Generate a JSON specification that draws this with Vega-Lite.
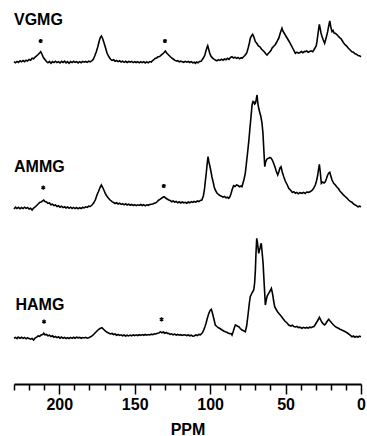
{
  "$schema": "https://vega.github.io/schema/vega-lite/v6.json",
  "padding": {"left": 10, "top": 0, "right": 8, "bottom": 0},
  "spacing": 0,
  "bounds": "flush",
  "background": "white",
  "config": {"view": {"stroke": null}, "font": "Liberation Sans"},
  "datasets": {
    "vgmg": [
      {"ppm":230,"v":0.3},{"ppm":229,"v":-0.8},{"ppm":228,"v":0.6},{"ppm":227,"v":-0.4},{"ppm":226,"v":1.2},{"ppm":225,"v":0.2},{"ppm":224,"v":1.5},{"ppm":223,"v":0.4},{"ppm":222,"v":1.8},{"ppm":221,"v":0.9},{"ppm":220,"v":2.5},{"ppm":219,"v":1.8},{"ppm":218,"v":3.7},{"ppm":217,"v":3.2},{"ppm":216,"v":5},{"ppm":215,"v":6.2},{"ppm":214,"v":7.5},{"ppm":213,"v":9},{"ppm":212.3,"v":10.3},{"ppm":211.5,"v":8},{"ppm":210.5,"v":4.5},{"ppm":209.5,"v":2.5},{"ppm":208.5,"v":0.5},{"ppm":207.5,"v":-0.8},{"ppm":206.5,"v":0.5},{"ppm":205.5,"v":-1.3},{"ppm":204.5,"v":0.4},{"ppm":203.5,"v":-0.6},{"ppm":202.5,"v":0.8},{"ppm":201.5,"v":-0.5},{"ppm":200.5,"v":0.3},{"ppm":199.5,"v":-1},{"ppm":198.5,"v":0.6},{"ppm":197.5,"v":-0.4},{"ppm":196.5,"v":0.8},{"ppm":195.5,"v":-0.8},{"ppm":194.5,"v":0.4},{"ppm":193.5,"v":-1.2},{"ppm":192.5,"v":0.5},{"ppm":191.5,"v":-0.6},{"ppm":190.5,"v":0.7},{"ppm":189.5,"v":-0.3},{"ppm":188.5,"v":0.4},{"ppm":187.5,"v":-0.9},{"ppm":186.5,"v":0.3},{"ppm":185.5,"v":-0.7},{"ppm":184.5,"v":0.6},{"ppm":183.5,"v":-0.2},{"ppm":182.5,"v":0.5},{"ppm":181.5,"v":-0.4},{"ppm":180.5,"v":0.8},{"ppm":179.5,"v":0.2},{"ppm":178.5,"v":1.2},{"ppm":177.5,"v":2.5},{"ppm":176.5,"v":6},{"ppm":175.5,"v":10},{"ppm":174.5,"v":15},{"ppm":173.5,"v":21},{"ppm":172.8,"v":24.5},{"ppm":172.1,"v":26},{"ppm":171.4,"v":24},{"ppm":170.5,"v":20},{"ppm":169.5,"v":15},{"ppm":168.3,"v":8.7},{"ppm":167,"v":5},{"ppm":166,"v":2.7},{"ppm":165,"v":1.6},{"ppm":164,"v":2.2},{"ppm":163,"v":0.8},{"ppm":162,"v":1.5},{"ppm":161,"v":0.4},{"ppm":160,"v":1.2},{"ppm":159,"v":0},{"ppm":158,"v":0.9},{"ppm":157,"v":-0.3},{"ppm":156,"v":0.7},{"ppm":155,"v":-0.5},{"ppm":154,"v":0.5},{"ppm":153,"v":-0.2},{"ppm":152,"v":0.6},{"ppm":151,"v":-0.6},{"ppm":150,"v":0.3},{"ppm":149,"v":-0.5},{"ppm":148,"v":0.4},{"ppm":147,"v":-0.8},{"ppm":146,"v":0.2},{"ppm":145,"v":-0.6},{"ppm":144,"v":0.3},{"ppm":143,"v":-0.9},{"ppm":142,"v":0.1},{"ppm":141,"v":-0.7},{"ppm":140,"v":0.4},{"ppm":139,"v":0},{"ppm":138.5,"v":1},{"ppm":137.5,"v":2},{"ppm":136.5,"v":3.5},{"ppm":135.5,"v":4},{"ppm":134.5,"v":5.2},{"ppm":133.5,"v":5.5},{"ppm":132.5,"v":6.8},{"ppm":131.5,"v":8},{"ppm":130.5,"v":9.5},{"ppm":129.7,"v":11},{"ppm":128.8,"v":9},{"ppm":127.5,"v":7},{"ppm":126.5,"v":5.5},{"ppm":125.5,"v":4},{"ppm":124.5,"v":3},{"ppm":123.5,"v":1.8},{"ppm":122.5,"v":1},{"ppm":121.5,"v":1.3},{"ppm":120.5,"v":0.2},{"ppm":119.5,"v":0.8},{"ppm":118.5,"v":0.3},{"ppm":117.5,"v":-0.3},{"ppm":116.5,"v":0.6},{"ppm":115.5,"v":-0.2},{"ppm":114.5,"v":0.5},{"ppm":113.5,"v":-0.5},{"ppm":112.5,"v":0.4},{"ppm":111.5,"v":-0.8},{"ppm":110.5,"v":-0.2},{"ppm":109.8,"v":-1.3},{"ppm":109,"v":0},{"ppm":108,"v":-0.8},{"ppm":107,"v":0.6},{"ppm":106,"v":0.8},{"ppm":105.4,"v":2},{"ppm":104.5,"v":4},{"ppm":103.5,"v":7},{"ppm":102.8,"v":11},{"ppm":102.2,"v":14},{"ppm":101.6,"v":16.3},{"ppm":101,"v":13},{"ppm":100.3,"v":9},{"ppm":99.5,"v":6},{"ppm":98.5,"v":4},{"ppm":97.5,"v":2.8},{"ppm":96.6,"v":2},{"ppm":95.5,"v":1.2},{"ppm":94.5,"v":2.4},{"ppm":93.5,"v":1.6},{"ppm":92.5,"v":2.8},{"ppm":91.5,"v":1.8},{"ppm":90.5,"v":3},{"ppm":89.5,"v":2.2},{"ppm":88.5,"v":3.7},{"ppm":87.5,"v":2.6},{"ppm":86.5,"v":4.5},{"ppm":85.5,"v":5.3},{"ppm":84.5,"v":4},{"ppm":83.5,"v":4.8},{"ppm":82.5,"v":3.6},{"ppm":81.5,"v":4.5},{"ppm":80.5,"v":3.2},{"ppm":79.5,"v":4.2},{"ppm":78.9,"v":3.7},{"ppm":78,"v":5},{"ppm":77,"v":6.5},{"ppm":76,"v":8.5},{"ppm":75.5,"v":10.3},{"ppm":74.8,"v":14},{"ppm":74,"v":19},{"ppm":73.4,"v":23.7},{"ppm":72.6,"v":26},{"ppm":71.8,"v":27.7},{"ppm":71,"v":25},{"ppm":70,"v":20.3},{"ppm":69,"v":18.5},{"ppm":68,"v":16},{"ppm":67,"v":15.2},{"ppm":66,"v":13},{"ppm":65,"v":11.5},{"ppm":64,"v":10},{"ppm":63,"v":8},{"ppm":62.3,"v":7},{"ppm":61.5,"v":8.5},{"ppm":60.5,"v":10},{"ppm":59.5,"v":12},{"ppm":59,"v":13.7},{"ppm":58,"v":15.5},{"ppm":57,"v":17},{"ppm":56,"v":19.5},{"ppm":55,"v":22.5},{"ppm":54.5,"v":23.7},{"ppm":53.5,"v":29},{"ppm":52.8,"v":32},{"ppm":52.4,"v":33.7},{"ppm":51.8,"v":31},{"ppm":51,"v":29},{"ppm":50.2,"v":27},{"ppm":49,"v":24},{"ppm":48,"v":21.5},{"ppm":46.9,"v":18.7},{"ppm":45.5,"v":14.5},{"ppm":44.5,"v":11.5},{"ppm":43.5,"v":8.7},{"ppm":42.5,"v":9.8},{"ppm":41.5,"v":8.8},{"ppm":40.4,"v":9.5},{"ppm":39.5,"v":10.5},{"ppm":38.5,"v":9.3},{"ppm":37.5,"v":10.6},{"ppm":36.9,"v":10.3},{"ppm":36,"v":11},{"ppm":35,"v":9.8},{"ppm":34,"v":10.5},{"ppm":33,"v":11.2},{"ppm":32,"v":10.4},{"ppm":31.3,"v":12},{"ppm":30.5,"v":14},{"ppm":29.7,"v":16},{"ppm":29.2,"v":20.3},{"ppm":28.6,"v":27},{"ppm":28,"v":34},{"ppm":27.6,"v":37.7},{"ppm":27,"v":33},{"ppm":26.5,"v":29},{"ppm":25.8,"v":25.3},{"ppm":25,"v":22},{"ppm":24.1,"v":18.7},{"ppm":23.5,"v":22},{"ppm":22.8,"v":26},{"ppm":22.1,"v":30.3},{"ppm":21.4,"v":36},{"ppm":20.7,"v":41},{"ppm":20,"v":35},{"ppm":19.2,"v":30.3},{"ppm":18.5,"v":31.5},{"ppm":17.8,"v":29},{"ppm":17,"v":28.7},{"ppm":16,"v":27.5},{"ppm":15,"v":25.8},{"ppm":14,"v":24.2},{"ppm":13.3,"v":23.5},{"ppm":12.5,"v":21.5},{"ppm":11.5,"v":19},{"ppm":10.4,"v":17},{"ppm":9.5,"v":16},{"ppm":8.5,"v":14},{"ppm":7.5,"v":12.5},{"ppm":6,"v":10.3},{"ppm":5,"v":9.8},{"ppm":4,"v":8.2},{"ppm":3,"v":7.8},{"ppm":2,"v":6.4},{"ppm":1,"v":6.2},{"ppm":0,"v":5.3}
    ],
    "ammg": [
      {"ppm":230,"v":-1},{"ppm":229,"v":0.8},{"ppm":228,"v":-0.5},{"ppm":227,"v":0.6},{"ppm":226,"v":-0.8},{"ppm":225,"v":0.4},{"ppm":224,"v":-0.6},{"ppm":223,"v":0.8},{"ppm":222,"v":-0.4},{"ppm":221,"v":0.5},{"ppm":220,"v":-1},{"ppm":219,"v":-0.2},{"ppm":218,"v":-2},{"ppm":217,"v":0},{"ppm":216,"v":1},{"ppm":215,"v":2.5},{"ppm":214,"v":4},{"ppm":213,"v":5.5},{"ppm":212,"v":6},{"ppm":211,"v":7.2},{"ppm":210.3,"v":8},{"ppm":209.5,"v":6.5},{"ppm":208.5,"v":6},{"ppm":207.5,"v":4.7},{"ppm":206.5,"v":5},{"ppm":205.5,"v":3.2},{"ppm":204.5,"v":3.8},{"ppm":203.5,"v":2.4},{"ppm":202.5,"v":3},{"ppm":201.5,"v":1.5},{"ppm":200.5,"v":2.2},{"ppm":199.5,"v":0.8},{"ppm":198.5,"v":1.8},{"ppm":197.5,"v":0.4},{"ppm":196.5,"v":1.2},{"ppm":195.5,"v":0},{"ppm":194.5,"v":1},{"ppm":193.5,"v":-0.3},{"ppm":192.5,"v":0.8},{"ppm":191.5,"v":-0.4},{"ppm":190.5,"v":0.6},{"ppm":189.5,"v":-0.6},{"ppm":188.5,"v":0.5},{"ppm":187.5,"v":-0.8},{"ppm":186.5,"v":0.3},{"ppm":185.5,"v":-0.5},{"ppm":184.5,"v":0.6},{"ppm":183.5,"v":0.2},{"ppm":182.5,"v":1.2},{"ppm":181.5,"v":0.6},{"ppm":180.5,"v":1.8},{"ppm":179.5,"v":1.5},{"ppm":178.3,"v":3},{"ppm":177.2,"v":5},{"ppm":176,"v":8.5},{"ppm":175,"v":13},{"ppm":174,"v":16.5},{"ppm":173,"v":20.5},{"ppm":172.1,"v":23},{"ppm":171.2,"v":20.5},{"ppm":170.3,"v":17.5},{"ppm":169.5,"v":14.7},{"ppm":168.5,"v":12},{"ppm":167.5,"v":10},{"ppm":166.3,"v":8},{"ppm":165,"v":6.3},{"ppm":164,"v":5.5},{"ppm":163,"v":4.5},{"ppm":162,"v":5.2},{"ppm":161,"v":4},{"ppm":160,"v":4.8},{"ppm":159,"v":3.6},{"ppm":158,"v":4.4},{"ppm":157,"v":3.2},{"ppm":156,"v":4.2},{"ppm":155,"v":3},{"ppm":154,"v":3.9},{"ppm":153,"v":2.8},{"ppm":152,"v":3.6},{"ppm":151,"v":2.5},{"ppm":150,"v":3.4},{"ppm":149,"v":2.4},{"ppm":148,"v":3.2},{"ppm":147,"v":2.6},{"ppm":146,"v":3.5},{"ppm":145,"v":2.5},{"ppm":144,"v":3.3},{"ppm":143,"v":2.2},{"ppm":142,"v":3.2},{"ppm":141,"v":2.7},{"ppm":140,"v":3.4},{"ppm":139,"v":3.8},{"ppm":138,"v":4},{"ppm":137,"v":4.8},{"ppm":136,"v":5.2},{"ppm":135,"v":6.5},{"ppm":134,"v":8},{"ppm":133,"v":8.8},{"ppm":132,"v":10},{"ppm":131,"v":11},{"ppm":130.5,"v":11.3},{"ppm":129.5,"v":10},{"ppm":128.5,"v":9},{"ppm":127.4,"v":8},{"ppm":126.5,"v":7.5},{"ppm":125.5,"v":6.2},{"ppm":124.5,"v":7},{"ppm":123.5,"v":6},{"ppm":122.5,"v":6.6},{"ppm":121.5,"v":5.2},{"ppm":120.5,"v":6.2},{"ppm":119.5,"v":5},{"ppm":118.5,"v":6},{"ppm":117.5,"v":5.2},{"ppm":116.5,"v":5.7},{"ppm":115.5,"v":4.8},{"ppm":114.5,"v":6},{"ppm":113.5,"v":5.2},{"ppm":112.5,"v":6.4},{"ppm":111.5,"v":5.6},{"ppm":110.7,"v":6.5},{"ppm":109.5,"v":5.8},{"ppm":108.5,"v":7},{"ppm":107.5,"v":6.4},{"ppm":106.5,"v":7.6},{"ppm":105.5,"v":8},{"ppm":104.5,"v":12},{"ppm":103.8,"v":18},{"ppm":103.2,"v":26.3},{"ppm":102.5,"v":36},{"ppm":101.9,"v":45},{"ppm":101.4,"v":51.3},{"ppm":100.8,"v":46},{"ppm":100.2,"v":42},{"ppm":99.5,"v":37},{"ppm":98.8,"v":31},{"ppm":98,"v":26},{"ppm":97.3,"v":21},{"ppm":96.6,"v":18},{"ppm":95.5,"v":15},{"ppm":94.5,"v":13.5},{"ppm":93.5,"v":12.5},{"ppm":92.5,"v":11.8},{"ppm":91.5,"v":10.8},{"ppm":90.5,"v":11.5},{"ppm":89.5,"v":10.2},{"ppm":88.5,"v":10.8},{"ppm":87.7,"v":9.7},{"ppm":87,"v":11},{"ppm":86.2,"v":14},{"ppm":85.5,"v":18},{"ppm":84.8,"v":21},{"ppm":84.4,"v":22.3},{"ppm":83.5,"v":21.5},{"ppm":82.5,"v":23},{"ppm":81.5,"v":22.5},{"ppm":80.5,"v":21.3},{"ppm":79.5,"v":22},{"ppm":78.9,"v":21.3},{"ppm":78.2,"v":25},{"ppm":77.5,"v":29},{"ppm":76.7,"v":34.7},{"ppm":76,"v":44},{"ppm":75.2,"v":55},{"ppm":74.4,"v":66.3},{"ppm":73.6,"v":80},{"ppm":72.8,"v":93},{"ppm":72.2,"v":103},{"ppm":71.6,"v":106.5},{"ppm":71.1,"v":106.3},{"ppm":70.5,"v":104},{"ppm":70,"v":104.7},{"ppm":69.5,"v":108},{"ppm":68.9,"v":113},{"ppm":68.4,"v":105},{"ppm":67.8,"v":99.7},{"ppm":67,"v":95},{"ppm":66.3,"v":91},{"ppm":65.6,"v":84.7},{"ppm":65,"v":75},{"ppm":64.4,"v":58},{"ppm":63.8,"v":41.3},{"ppm":63.2,"v":46},{"ppm":62.5,"v":48.5},{"ppm":61.8,"v":49.5},{"ppm":61.2,"v":49.7},{"ppm":60.3,"v":50.5},{"ppm":59.6,"v":50},{"ppm":58.8,"v":48},{"ppm":57.9,"v":44.7},{"ppm":57,"v":41},{"ppm":56.2,"v":37},{"ppm":55.2,"v":33},{"ppm":54.5,"v":36},{"ppm":53.7,"v":40},{"ppm":53,"v":41.3},{"ppm":52.2,"v":36},{"ppm":51.2,"v":31.3},{"ppm":50.2,"v":27},{"ppm":49,"v":23.5},{"ppm":47.9,"v":19.7},{"ppm":46.5,"v":17.5},{"ppm":45.5,"v":15.5},{"ppm":44.5,"v":16.2},{"ppm":43.5,"v":14.7},{"ppm":42.5,"v":15.6},{"ppm":41.5,"v":14.2},{"ppm":40.5,"v":15.3},{"ppm":39.1,"v":14.7},{"ppm":38,"v":15.6},{"ppm":37,"v":14.5},{"ppm":36,"v":16},{"ppm":34.7,"v":15.7},{"ppm":33.5,"v":16.5},{"ppm":32.5,"v":17.5},{"ppm":31.5,"v":19.5},{"ppm":30.3,"v":23},{"ppm":29.5,"v":27},{"ppm":28.8,"v":32},{"ppm":28.2,"v":38},{"ppm":27.6,"v":43.7},{"ppm":27,"v":36},{"ppm":26.3,"v":24.7},{"ppm":25.5,"v":26},{"ppm":24.5,"v":25},{"ppm":23.7,"v":26.3},{"ppm":23,"v":29},{"ppm":22.2,"v":32.5},{"ppm":21.4,"v":35},{"ppm":20.7,"v":35.7},{"ppm":20,"v":32},{"ppm":19.2,"v":28},{"ppm":18.1,"v":24.7},{"ppm":17,"v":23},{"ppm":16,"v":21},{"ppm":15,"v":19.5},{"ppm":14,"v":17},{"ppm":12.6,"v":14.7},{"ppm":11.5,"v":12.8},{"ppm":10.5,"v":11.5},{"ppm":9.5,"v":10.2},{"ppm":8.2,"v":8},{"ppm":7,"v":6.5},{"ppm":6,"v":5.8},{"ppm":5,"v":4.2},{"ppm":3.8,"v":3},{"ppm":3,"v":2.4},{"ppm":2,"v":1.2},{"ppm":1,"v":1.8},{"ppm":0,"v":1.3}
    ],
    "hamg": [
      {"ppm":230,"v":-0.3},{"ppm":229,"v":0.6},{"ppm":228,"v":-0.6},{"ppm":227.3,"v":1},{"ppm":226,"v":-0.2},{"ppm":225,"v":0.7},{"ppm":224,"v":-0.4},{"ppm":223,"v":0.5},{"ppm":222,"v":-0.8},{"ppm":221,"v":0.2},{"ppm":220,"v":-0.6},{"ppm":219,"v":-1.2},{"ppm":218,"v":-0.4},{"ppm":217,"v":-2},{"ppm":216,"v":0},{"ppm":215,"v":0.8},{"ppm":214,"v":2},{"ppm":213,"v":1.6},{"ppm":212,"v":3},{"ppm":211,"v":3.5},{"ppm":210.3,"v":4.7},{"ppm":209.5,"v":3.2},{"ppm":208.5,"v":3.6},{"ppm":207.5,"v":2.2},{"ppm":206.5,"v":2.8},{"ppm":205.5,"v":1.5},{"ppm":204.5,"v":2.2},{"ppm":203.5,"v":0.8},{"ppm":202.5,"v":1.5},{"ppm":201.5,"v":0.4},{"ppm":200.5,"v":1.2},{"ppm":199.5,"v":-0.2},{"ppm":198.5,"v":1},{"ppm":197.5,"v":-0.3},{"ppm":196.5,"v":0.6},{"ppm":195.5,"v":-0.5},{"ppm":194.5,"v":0.4},{"ppm":193.5,"v":-0.5},{"ppm":192.5,"v":0.6},{"ppm":191.5,"v":-0.4},{"ppm":190.5,"v":0.7},{"ppm":189.5,"v":-0.2},{"ppm":188.5,"v":0.8},{"ppm":187.5,"v":0.2},{"ppm":186.5,"v":0.6},{"ppm":185.5,"v":-0.3},{"ppm":184.5,"v":0.5},{"ppm":183.5,"v":0},{"ppm":182.5,"v":0.7},{"ppm":181.5,"v":-0.1},{"ppm":180.5,"v":0.3},{"ppm":179.5,"v":1},{"ppm":178.5,"v":1.8},{"ppm":177.5,"v":3},{"ppm":176.3,"v":5},{"ppm":175,"v":7},{"ppm":174,"v":8.5},{"ppm":173,"v":9.5},{"ppm":171.7,"v":10.3},{"ppm":170.5,"v":8.5},{"ppm":169.5,"v":7},{"ppm":168.3,"v":5.7},{"ppm":167,"v":4.8},{"ppm":166,"v":4},{"ppm":165,"v":4.5},{"ppm":164,"v":3.5},{"ppm":163,"v":4},{"ppm":162,"v":2.8},{"ppm":161,"v":3.5},{"ppm":160,"v":2.6},{"ppm":159,"v":3.2},{"ppm":158,"v":2.2},{"ppm":157,"v":3},{"ppm":156,"v":2},{"ppm":155,"v":2.8},{"ppm":154,"v":2.1},{"ppm":153,"v":2.9},{"ppm":152,"v":2.2},{"ppm":151,"v":3.1},{"ppm":150,"v":2.4},{"ppm":149,"v":3.2},{"ppm":148,"v":2.5},{"ppm":147,"v":3.3},{"ppm":146,"v":2.6},{"ppm":145,"v":3.4},{"ppm":144,"v":2.7},{"ppm":143,"v":3.5},{"ppm":142,"v":2.8},{"ppm":141,"v":3.4},{"ppm":140,"v":3},{"ppm":139,"v":3.8},{"ppm":138,"v":3.3},{"ppm":137,"v":4.1},{"ppm":136,"v":4},{"ppm":135,"v":4.8},{"ppm":134,"v":5},{"ppm":133,"v":6.3},{"ppm":132,"v":5.2},{"ppm":131,"v":6},{"ppm":130,"v":4.8},{"ppm":129,"v":5.5},{"ppm":128,"v":4.4},{"ppm":127.4,"v":4.7},{"ppm":126.5,"v":3.6},{"ppm":125.5,"v":4.2},{"ppm":124.5,"v":3.2},{"ppm":123.5,"v":3.9},{"ppm":122.5,"v":3},{"ppm":121.5,"v":3.6},{"ppm":120.5,"v":2.8},{"ppm":119.5,"v":3.3},{"ppm":118.5,"v":2.6},{"ppm":117.5,"v":3.2},{"ppm":116.4,"v":3},{"ppm":115.5,"v":2.4},{"ppm":114.5,"v":3},{"ppm":113.5,"v":2.2},{"ppm":112.5,"v":2.8},{"ppm":111.5,"v":1.8},{"ppm":110.7,"v":2},{"ppm":109.5,"v":3},{"ppm":108.5,"v":2.4},{"ppm":107.5,"v":3.6},{"ppm":106.5,"v":3.2},{"ppm":105.4,"v":4.7},{"ppm":104.5,"v":7},{"ppm":103.5,"v":11},{"ppm":102.7,"v":14.7},{"ppm":102,"v":19},{"ppm":101.2,"v":23},{"ppm":100.5,"v":26},{"ppm":99.8,"v":28},{"ppm":99.2,"v":28.7},{"ppm":98.5,"v":25},{"ppm":97.5,"v":19},{"ppm":96.6,"v":13},{"ppm":95.5,"v":11.5},{"ppm":94.5,"v":10.2},{"ppm":93.5,"v":9.5},{"ppm":92.1,"v":8},{"ppm":91,"v":7},{"ppm":90,"v":6.2},{"ppm":89,"v":5.8},{"ppm":88.1,"v":5},{"ppm":87,"v":4.2},{"ppm":86,"v":4.4},{"ppm":85.5,"v":3},{"ppm":84.8,"v":6},{"ppm":84,"v":10},{"ppm":83.3,"v":13},{"ppm":82.5,"v":12.5},{"ppm":81.8,"v":11.8},{"ppm":81,"v":11.3},{"ppm":80,"v":9.5},{"ppm":78.9,"v":8},{"ppm":77.8,"v":7.2},{"ppm":76.7,"v":6.3},{"ppm":75.8,"v":12},{"ppm":74.9,"v":23},{"ppm":74,"v":35},{"ppm":73.4,"v":41.3},{"ppm":72.3,"v":45},{"ppm":71.1,"v":48},{"ppm":70.5,"v":55},{"ppm":70,"v":68},{"ppm":69.6,"v":85},{"ppm":69.1,"v":99.7},{"ppm":68.6,"v":95},{"ppm":68.2,"v":90},{"ppm":67.8,"v":84.7},{"ppm":67.3,"v":88},{"ppm":66.9,"v":90},{"ppm":66.5,"v":93},{"ppm":66.1,"v":94.7},{"ppm":65.5,"v":85},{"ppm":64.9,"v":74.7},{"ppm":64.2,"v":55},{"ppm":63.4,"v":33},{"ppm":62.8,"v":38},{"ppm":62.2,"v":42},{"ppm":61.2,"v":44.7},{"ppm":60.3,"v":47},{"ppm":59.4,"v":49.7},{"ppm":58.6,"v":44},{"ppm":57.9,"v":37},{"ppm":57.2,"v":31.3},{"ppm":56.2,"v":28.5},{"ppm":55.2,"v":26},{"ppm":54.4,"v":24.5},{"ppm":53.5,"v":23},{"ppm":52,"v":20},{"ppm":50.5,"v":17},{"ppm":49,"v":15},{"ppm":47.9,"v":13},{"ppm":46.5,"v":12},{"ppm":45.5,"v":12.8},{"ppm":44.5,"v":11.4},{"ppm":43.5,"v":11},{"ppm":42.5,"v":11.6},{"ppm":41.5,"v":10.4},{"ppm":40.5,"v":10.8},{"ppm":39.1,"v":9.7},{"ppm":38,"v":10.6},{"ppm":37,"v":9.8},{"ppm":36,"v":10.6},{"ppm":35,"v":9.9},{"ppm":34,"v":10.8},{"ppm":33,"v":10.4},{"ppm":32,"v":11.2},{"ppm":31.3,"v":11.3},{"ppm":30.5,"v":13},{"ppm":29.5,"v":15.5},{"ppm":28.5,"v":18},{"ppm":27.6,"v":20.7},{"ppm":26.8,"v":18.5},{"ppm":26,"v":16},{"ppm":25,"v":14},{"ppm":24.1,"v":13},{"ppm":23.3,"v":14.5},{"ppm":22.5,"v":16.5},{"ppm":21.4,"v":18.7},{"ppm":20.5,"v":17},{"ppm":19.5,"v":15.2},{"ppm":18.5,"v":13.5},{"ppm":17,"v":11.3},{"ppm":16,"v":10.5},{"ppm":15,"v":9.8},{"ppm":14,"v":8.8},{"ppm":13,"v":8.2},{"ppm":12,"v":7.4},{"ppm":10.4,"v":6.3},{"ppm":9,"v":5},{"ppm":8,"v":3.8},{"ppm":7,"v":2.6},{"ppm":6,"v":1.3},{"ppm":5,"v":2},{"ppm":4,"v":0.8},{"ppm":3,"v":1.6},{"ppm":2,"v":0.9},{"ppm":1,"v":1.8},{"ppm":0,"v":1.3}
    ]
  },
  "vconcat": [
    {
      "width": 347, "height": 75,
      "encoding": {"x": {"field": "ppm", "type": "quantitative", "scale": {"domain": [230, 0], "nice": false, "zero": false}, "axis": null}},
      "layer": [
        {"data": {"name": "vgmg"}, "mark": {"type": "line", "color": "black", "strokeWidth": 1.6},
         "encoding": {"y": {"field": "v", "type": "quantitative", "scale": {"domain": [-13, 62], "nice": false, "zero": false}, "axis": null}}},
        {"data": {"values": [{"ppm": 230, "v": 37, "t": "VGMG"}]}, "mark": {"type": "text", "align": "left", "baseline": "alphabetic", "fontSize": 16, "fontWeight": "bold", "font": "Liberation Sans", "color": "black"},
         "encoding": {"y": {"field": "v", "type": "quantitative"}, "text": {"field": "t"}}},
        {"data": {"values": [{"ppm": 212.3, "v": 21}, {"ppm": 129.9, "v": 21}]}, "mark": {"type": "point", "shape": "M0,-1L0,1M-0.87,-0.5L0.87,0.5M-0.87,0.5L0.87,-0.5", "filled": false, "stroke": "black", "strokeWidth": 1.4, "size": 18, "opacity": 1},
         "encoding": {"y": {"field": "v", "type": "quantitative"}}}
      ]
    },
    {
      "width": 347, "height": 140,
      "encoding": {"x": {"field": "ppm", "type": "quantitative", "scale": {"domain": [230, 0], "nice": false, "zero": false}, "axis": null}},
      "layer": [
        {"data": {"name": "ammg"}, "mark": {"type": "line", "color": "black", "strokeWidth": 1.6},
         "encoding": {"y": {"field": "v", "type": "quantitative", "scale": {"domain": [-7, 133], "nice": false, "zero": false}, "axis": null}}},
        {"data": {"values": [{"ppm": 230, "v": 35.7, "t": "AMMG"}]}, "mark": {"type": "text", "align": "left", "baseline": "alphabetic", "fontSize": 16, "fontWeight": "bold", "font": "Liberation Sans", "color": "black"},
         "encoding": {"y": {"field": "v", "type": "quantitative"}, "text": {"field": "t"}}},
        {"data": {"values": [{"ppm": 210.6, "v": 20.3}, {"ppm": 130.7, "v": 22}]}, "mark": {"type": "point", "shape": "M0,-1L0,1M-0.87,-0.5L0.87,0.5M-0.87,0.5L0.87,-0.5", "filled": false, "stroke": "black", "strokeWidth": 1.4, "size": 18, "opacity": 1},
         "encoding": {"y": {"field": "v", "type": "quantitative"}}}
      ]
    },
    {
      "width": 347, "height": 169,
      "encoding": {"x": {"field": "ppm", "type": "quantitative", "title": "PPM", "scale": {"domain": [230, 0], "nice": false, "zero": false},
                         "axis": {"values": [230,220,210,200,190,180,170,160,150,140,130,120,110,100,90,80,70,60,50,40,30,20,10,0],
                                  "labelExpr": "datum.value % 50 === 0 ? datum.label : ''",
                                  "tickSize": {"condition": {"test": "datum.value % 50 === 0", "value": 10}, "value": 6},
                                  "tickWidth": 1.5, "tickColor": "black", "domainColor": "black", "domainWidth": 2, "grid": false,
                                  "labelFont": "Liberation Sans", "labelFontWeight": "bold", "labelFontSize": 16, "labelColor": "black", "labelPadding": 2, "labelFlush": false, "labelOverlap": false,
                                  "titleFont": "Liberation Sans", "titleFontWeight": "bold", "titleFontSize": 16, "titleColor": "black", "titlePadding": 9}}},
      "layer": [
        {"data": {"name": "hamg"}, "mark": {"type": "line", "color": "black", "strokeWidth": 1.6},
         "encoding": {"y": {"field": "v", "type": "quantitative", "scale": {"domain": [-46, 123], "nice": false, "zero": false}, "axis": null}}},
        {"data": {"values": [{"ppm": 229, "v": 28.5, "t": "HAMG"}]}, "mark": {"type": "text", "align": "left", "baseline": "alphabetic", "fontSize": 16, "fontWeight": "bold", "font": "Liberation Sans", "color": "black"},
         "encoding": {"y": {"field": "v", "type": "quantitative"}, "text": {"field": "t"}}},
        {"data": {"values": [{"ppm": 210.1, "v": 16.3}, {"ppm": 132.2, "v": 18.7}]}, "mark": {"type": "point", "shape": "M0,-1L0,1M-0.87,-0.5L0.87,0.5M-0.87,0.5L0.87,-0.5", "filled": false, "stroke": "black", "strokeWidth": 1.4, "size": 18, "opacity": 1},
         "encoding": {"y": {"field": "v", "type": "quantitative"}}}
      ]
    }
  ]
}
